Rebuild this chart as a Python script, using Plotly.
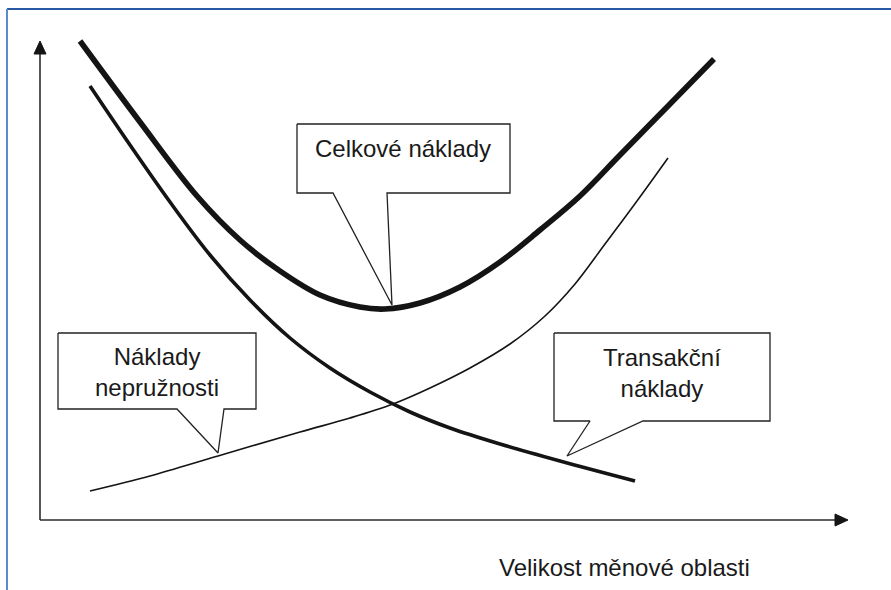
"""
plot.py — Optimum currency area diagram (costs vs. size of currency area).
"""

import plotly.graph_objects as go

# curves in pixel units (x right, y down)
total_x = [80, 140, 197, 240, 280, 320, 360, 385, 420, 460, 500, 540, 580, 620, 670, 714]
total_y = [41, 122, 196, 240, 271, 295, 307, 309, 303, 287, 262, 230, 196, 155, 104, 59]

rigid_x = [90, 130, 170, 210, 250, 290, 330, 370, 410, 450, 500, 560, 635]
rigid_y = [86, 145, 202, 255, 300, 338, 368, 392, 412, 428, 444, 461, 481]

trans_x = [90, 150, 218, 300, 350, 393, 430, 470, 510, 545, 575, 605, 637, 668]
trans_y = [491, 476, 456, 432, 418, 404, 388, 368, 344, 316, 284, 244, 201, 158]

# axes
axis_x = [40, 40, None, 40, 836]
axis_y = [53, 520, None, 520, 520]
arrow_x = [34, 40, 46, 34, None, 835, 848, 835, 835]
arrow_y = [54, 41, 54, 54, None, 514, 520, 526, 514]

# callouts: box corners, pointer base and tip
callout_total_x = [297, 510, 510, 387, 392, 333, 297, 297]
callout_total_y = [124, 124, 193, 193, 305, 193, 193, 124]
callout_rigid_x = [58, 256, 256, 224, 218, 177, 58, 58]
callout_rigid_y = [333, 333, 409, 409, 453, 409, 409, 333]
callout_trans_x = [554, 770, 770, 643, 567, 590, 554, 554]
callout_trans_y = [333, 333, 421, 421, 456, 421, 421, 333]

labels = ["Celkové náklady", "Náklady<br>nepružnosti", "Transakční<br>náklady", "Velikost měnové oblasti"]
label_x = [403, 157, 662, 624]
label_y = [148, 372, 373, 567]

INK = "#141414"
FONT = "Liberation Sans, Arial, sans-serif"

fig = go.Figure()

for cx, cy in [(callout_total_x, callout_total_y),
               (callout_rigid_x, callout_rigid_y),
               (callout_trans_x, callout_trans_y)]:
    fig.add_trace(go.Scatter(
        x=cx, y=cy, mode="lines", fill="toself", fillcolor="white",
        line=dict(color="#222222", width=1.3), hoverinfo="skip",
    ))

fig.add_trace(go.Scatter(x=axis_x, y=axis_y, mode="lines",
                         line=dict(color="#2b2b2b", width=1.6), hoverinfo="skip"))
fig.add_trace(go.Scatter(x=arrow_x, y=arrow_y, mode="lines", fill="toself",
                         fillcolor=INK, line=dict(color=INK, width=1), hoverinfo="skip"))

fig.add_trace(go.Scatter(x=trans_x, y=trans_y, mode="lines", line_shape="spline",
                         line=dict(color=INK, width=1.6), name="Transakční náklady"))
fig.add_trace(go.Scatter(x=rigid_x, y=rigid_y, mode="lines", line_shape="spline",
                         line=dict(color=INK, width=3.6), name="Náklady nepružnosti"))
fig.add_trace(go.Scatter(x=total_x, y=total_y, mode="lines", line_shape="spline",
                         line=dict(color=INK, width=5.6), name="Celkové náklady"))

for text, tx, ty in zip(labels, label_x, label_y):
    fig.add_annotation(x=tx, y=ty, text=text, showarrow=False,
                       font=dict(family=FONT, size=24, color="#1a1a1a"),
                       xanchor="center", yanchor="middle")

# blue frame (top and left edges)
fig.add_shape(type="line", x0=7, y0=9, x1=891, y1=9, line=dict(color="#2a5aa6", width=2))
fig.add_shape(type="line", x0=7, y0=9, x1=7, y1=590, line=dict(color="#5b8ad0", width=2))

fig.update_layout(
    width=891,
    height=590,
    margin=dict(l=0, r=0, t=0, b=0),
    plot_bgcolor="white",
    paper_bgcolor="white",
    showlegend=False,
    xaxis=dict(range=[0, 891], visible=False, fixedrange=True),
    yaxis=dict(range=[590, 0], visible=False, fixedrange=True),
)

fig.write_html("out.html", config={"displayModeBar": False},
               post_script="document.body.style.margin='0';")
